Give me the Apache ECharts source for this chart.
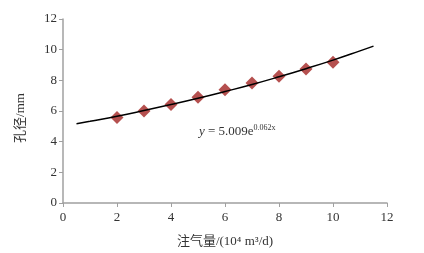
<!DOCTYPE html>
<html>
<head>
<meta charset="utf-8">
<script src="https://cdn.jsdelivr.net/npm/echarts@6/dist/echarts.min.js"></script>
<style>
  html, body { margin: 0; padding: 0; background: #fff; }
  #chart { width: 424px; height: 253px; }
</style>
</head>
<body>
<div id="chart"></div>
<script>
// 实测点
const injectRate = [2, 3, 4, 5, 6, 7, 8, 9, 10]
const poreSize = [5.58, 6.0, 6.43, 6.9, 7.38, 7.83, 8.27, 8.74, 9.18]
// 拟合曲线
const fitX = [0.5, 1, 2, 3, 4, 5, 6, 7, 8, 9, 10, 11, 11.5]
const fitY = [5.17, 5.33, 5.66, 6.03, 6.42, 6.83, 7.27, 7.73, 8.23, 8.76, 9.32, 9.92, 10.23]
const xTicks = [0, 2, 4, 6, 8, 10, 12]
const yTicks = [0, 2, 4, 6, 8, 10, 12]

const serif = '"Liberation Serif", "Noto Sans CJK SC", serif'
const axisColor = '#a0a0a0'
const textColor = '#333'

const option = {
  animation: false,
  grid: { left: 63, right: 37, top: 19, bottom: 49 },
  xAxis: {
    type: 'value',
    min: xTicks[0],
    max: xTicks[xTicks.length - 1],
    interval: 2,
    name: '注气量/(10⁴ m³/d)',
    nameLocation: 'middle',
    nameGap: 32,
    nameTextStyle: { fontFamily: serif, fontSize: 13, color: textColor },
    axisLine: { lineStyle: { color: axisColor, width: 1.5 } },
    axisTick: { show: true, length: 4, lineStyle: { color: axisColor } },
    axisLabel: { fontFamily: serif, fontSize: 13, color: textColor, margin: 8 },
    splitLine: { show: false }
  },
  yAxis: {
    type: 'value',
    min: yTicks[0],
    max: yTicks[yTicks.length - 1],
    interval: 2,
    name: '孔径/mm',
    nameLocation: 'middle',
    nameGap: 36,
    nameTextStyle: { fontFamily: serif, fontSize: 13, color: textColor, padding: [0, 14, 0, 0] },
    axisLine: { show: true, lineStyle: { color: axisColor, width: 1.5 } },
    axisTick: { show: true, length: 4, lineStyle: { color: axisColor } },
    axisLabel: { fontFamily: serif, fontSize: 13, color: textColor, margin: 6 },
    splitLine: { show: false }
  },
  series: [
    {
      type: 'line',
      data: fitX.map((x, i) => [x, fitY[i]]),
      smooth: true,
      symbol: 'none',
      lineStyle: { color: '#000', width: 1.5 },
      z: 3
    },
    {
      type: 'scatter',
      data: injectRate.map((x, i) => [x, poreSize[i]]),
      symbol: 'diamond',
      symbolSize: 13,
      itemStyle: { color: '#b5504f', opacity: 1 },
      z: 2
    }
  ],
  graphic: [
    {
      type: 'text',
      left: 199,
      top: 124,
      style: {
        text: '{i|y} = 5.009e{s|0.062x}',
        fontFamily: serif,
        fontSize: 13,
        fill: textColor,
        rich: {
          i: { fontFamily: serif, fontStyle: 'italic', fontSize: 13, fill: textColor },
          s: { fontFamily: serif, fontSize: 8, fill: textColor, verticalAlign: 'top', padding: [0, 0, 7, 0] }
        }
      }
    }
  ]
}

const myChart = echarts.init(document.getElementById('chart'))
myChart.setOption(option)
window.addEventListener('resize', () => {
  myChart.resize()
})
</script>
</body>
</html>
